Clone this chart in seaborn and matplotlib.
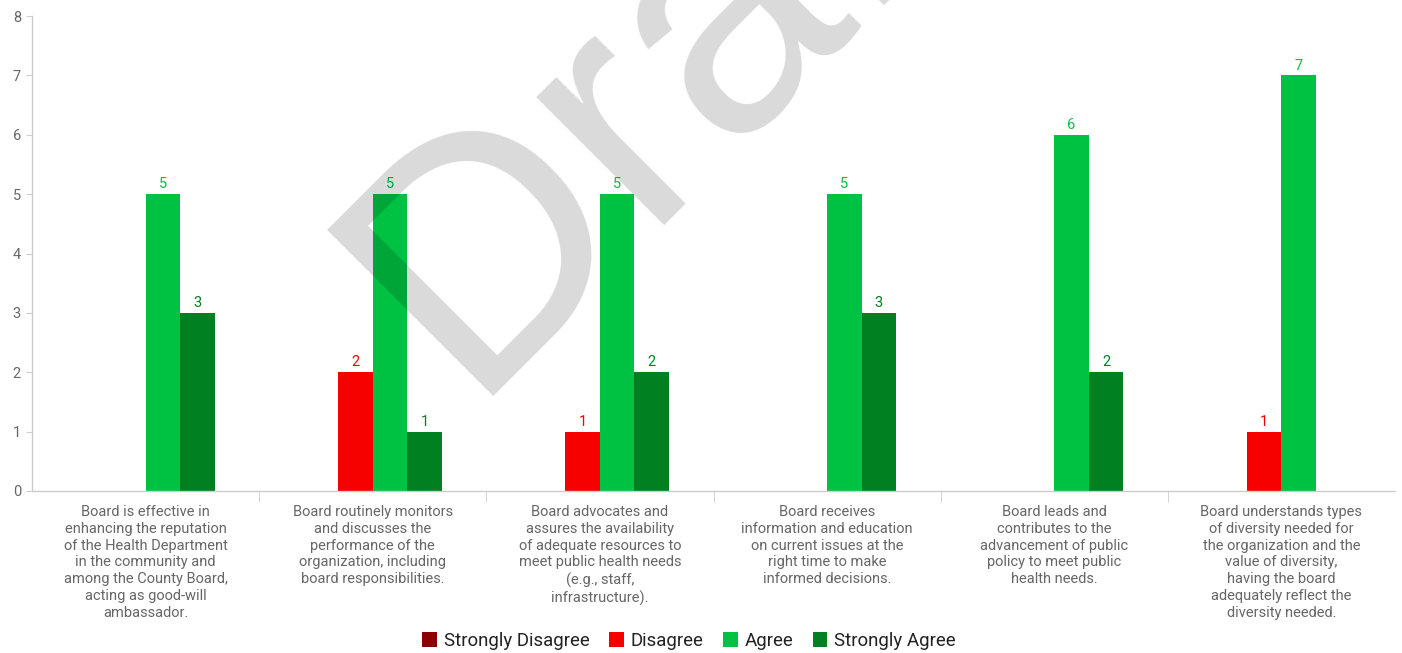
import matplotlib
matplotlib.use("Agg")
import matplotlib.pyplot as plt
import seaborn as sns
import pandas as pd
import numpy as np
from matplotlib.patches import Patch

categories = [
    "Board is effective in\nenhancing the reputation\nof the Health Department\nin the community and\namong the County Board,\nacting as good-will\nambassador.",
    "Board routinely monitors\nand discusses the\nperformance of the\norganization, including\nboard responsibilities.",
    "Board advocates and\nassures the availability\nof adequate resources to\nmeet public health needs\n(e.g., staff,\ninfrastructure).",
    "Board receives\ninformation and education\non current issues at the\nright time to make\ninformed decisions.",
    "Board leads and\ncontributes to the\nadvancement of public\npolicy to meet public\nhealth needs.",
    "Board understands types\nof diversity needed for\nthe organization and the\nvalue of diversity,\nhaving the board\nadequately reflect the\ndiversity needed.",
]
series_names = ["Strongly Disagree", "Disagree", "Agree", "Strongly Agree"]
strongly_disagree = [0, 0, 0, 0, 0, 0]
disagree = [0, 2, 1, 0, 0, 1]
agree = [5, 5, 5, 5, 6, 7]
strongly_agree = [3, 1, 2, 3, 2, 0]
colors = ["#8b0000", "#f70000", "#00c242", "#008020"]
y_ticks = [0, 1, 2, 3, 4, 5, 6, 7, 8]
watermark = "Draft"

sns.set_style("white")
plt.rcParams['font.family'] = ['Roboto', 'DejaVu Sans']

rows = []
for name, vals in zip(series_names, [strongly_disagree, disagree, agree, strongly_agree]):
    for c, v in zip(categories, vals):
        rows.append({"category": c, "series": name, "value": v})
df = pd.DataFrame(rows)

fig = plt.figure(figsize=(14.02, 6.53), dpi=100)
ax = fig.add_axes([32/1402, 162/653, 1363/1402, 475/653])

sns.barplot(data=df, x="category", y="value", hue="series", order=categories,
            hue_order=series_names, palette=colors, width=0.608, ax=ax,
            saturation=1, legend=False, errorbar=None, linewidth=0, edgecolor="none")

for cont, col in zip(ax.containers, colors):
    labels = [f"{int(b.get_height())}" if b.get_height() > 0 else "" for b in cont]
    ax.bar_label(cont, labels=labels, color=col, fontsize=10.5, padding=2)

ax.set_ylim(0, 8)
ax.set_xlim(-0.5, 5.5)
ax.set_yticks(y_ticks)
ax.set_xlabel("")
ax.set_ylabel("")
for s in ["top", "right"]:
    ax.spines[s].set_visible(False)
for s in ["left", "bottom"]:
    ax.spines[s].set_color("#cccccc")
    ax.spines[s].set_linewidth(1)
ax.tick_params(axis="y", left=True, length=4, color="#cccccc", labelcolor="#666666", labelsize=10.5, pad=4)
ax.tick_params(axis="x", which="major", length=0, labelcolor="#666666", labelsize=10.5, pad=10)
ax.set_xticks(np.arange(0.5, 5.0, 1.0), minor=True)
ax.tick_params(axis="x", which="minor", bottom=True, length=8, color="#cccccc")
for lbl in ax.get_xticklabels():
    lbl.set_multialignment("center")
    lbl.set_linespacing(1.26)

handles = [Patch(facecolor=c, edgecolor="none", label=n) for n, c in zip(series_names, colors)]
fig.legend(handles=handles, loc="center", bbox_to_anchor=(689/1402, 1 - 641/653), ncol=4,
           frameon=False, fontsize=13.4, handlelength=0.8, handleheight=0.8, handletextpad=0.35,
           columnspacing=1.05, labelcolor="#222222")

# watermark (real text), rotated 45 degrees, drawn over the bars with transparency
fig.text(466/1402, 1 - 396/653, watermark, fontsize=246, family="Liberation Sans",
         color="black", alpha=0.15, rotation=45, rotation_mode="anchor",
         ha="left", va="baseline", zorder=10)

fig.savefig("out.png", dpi=100)
